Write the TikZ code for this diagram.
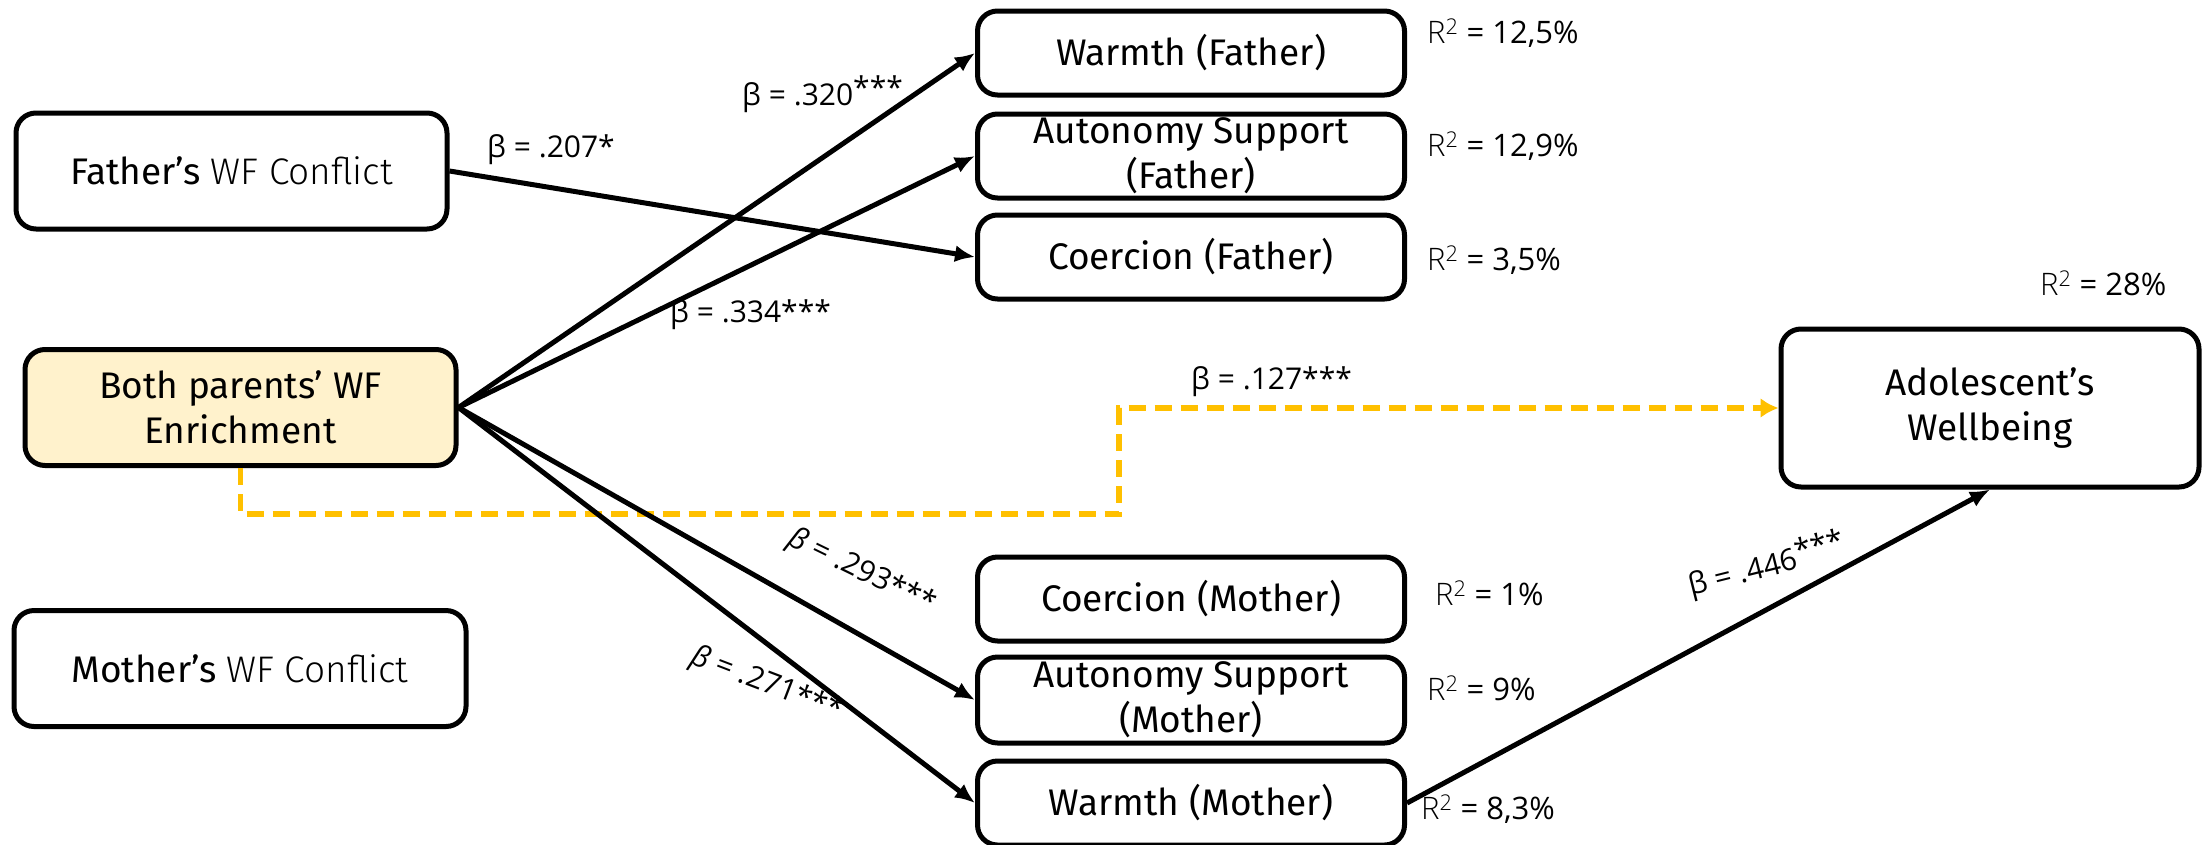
\documentclass[tikz,border=0pt]{standalone}
\usepackage{fontspec}
\setmainfont{Fira Sans}
\IfFontExistsTF{Fira Sans Light}
  {\newfontfamily\thinfont{Fira Sans Light}}
  {\newfontfamily\thinfont{Fira Sans}}
\newfontfamily\labelfont{Open Sans}
\IfFontExistsTF{Open Sans Light}
  {\newfontfamily\labelthin{Open Sans Light}}
  {\newfontfamily\labelthin{Open Sans}}
\usetikzlibrary{arrows.meta}
\definecolor{accent}{HTML}{FFC000}
\definecolor{accentfill}{HTML}{FFF2CC}
\newcommand{\rsq}[1]{{\labelthin R\textsuperscript{2}} = #1}
\newcommand{\hstars}{\raisebox{0.25em}{***}}

\begin{document}
\begin{tikzpicture}[x=1pt,y=-1pt,
  box/.style={draw, line width=5pt, rounded corners=20pt, align=center,
    inner sep=0pt, font=\fontsize{37}{45}\selectfont},
  midbox/.style={box, minimum width=427pt, minimum height=84pt},
  arr/.style={line width=5pt, -{Latex[length=20pt,width=17pt]}},
  dasharr/.style={line width=5.5pt, accent, dash pattern=on 17pt off 9pt,
    -{Latex[length=18pt,width=20pt]}},
  lbl/.style={font=\labelfont\fontsize{30}{36}\selectfont, inner sep=0pt},
  rlbl/.style={font=\labelfont\fontsize{31}{37}\selectfont, inner sep=0pt, anchor=west}]
\useasboundingbox (0,0) rectangle (2202,844);

% predictors
\node[box, minimum width=431pt, minimum height=116pt] (fwf) at (231.5,171)
  {Father’s {\thinfont WF Conflict}};
\node[box, fill=accentfill, minimum width=431pt, minimum height=116pt] (both) at (240.5,407.5)
  {Both parents’ WF\\Enrichment};
\node[box, minimum width=452pt, minimum height=116pt] (mwf) at (240,668.5)
  {Mother’s {\thinfont WF Conflict}};

% parenting dimensions
\node[midbox] (wF) at (1191,53) {Warmth (Father)};
\node[midbox] (aF) at (1191,156) {Autonomy Support\\(Father)};
\node[midbox] (cF) at (1191,257) {Coercion (Father)};
\node[midbox] (cM) at (1191,599) {Coercion (Mother)};
\node[midbox, minimum height=86pt] (aM) at (1191,700) {Autonomy Support\\(Mother)};
\node[midbox] (wM) at (1191,803) {Warmth (Mother)};

% outcome
\node[box, minimum width=418pt, minimum height=158pt] (well) at (1990,408)
  {Adolescent’s\\Wellbeing};

% explained variance
\node[rlbl] (r1) at (1427,33) {\rsq{12,5\%}};
\node[rlbl] (r2) at (1427,146) {\rsq{12,9\%}};
\node[rlbl] (r3) at (1427,260) {\rsq{3,5\%}};
\node[rlbl] (r4) at (2040,283) {\rsq{28\%}};
\node[rlbl] (r5) at (1435,593) {\rsq{1\%}};
\node[rlbl] (r6) at (1427,688) {\rsq{9\%}};
\node[rlbl] (r7) at (1421,809) {\rsq{8,3\%}};

% paths
\draw[dasharr] (both.south) |- (1119,514) -- (1119,408) -- (well.west);
\draw[arr] (fwf.east) -- (cF.west);
\draw[arr] (both.east) -- (wF.west);
\draw[arr] (both.east) -- (aF.west);
\draw[arr] (both.east) -- (aM.west);
\draw[arr] (both.east) -- (wM.west);
\draw[arr] (wM.east) -- (well.south);

% coefficients
\node[lbl, anchor=west] (b1) at (487,150) {β = .207*};
\node[lbl, anchor=west] (b2) at (742,94) {β = .320\hstars};
\node[lbl, anchor=west] (b3) at (670,315) {β = .334***};
\node[lbl, anchor=west] (b4) at (1191,382) {β = .127***};
\node[lbl, rotate=-26] (b5) at (862,572) {{\itshape β} = .293***};
\node[lbl, rotate=-21] (b6) at (767,685) {{\itshape β} = .271***};
\node[lbl, rotate=14] (b7) at (1767,565) {β = .446\hstars};
\end{tikzpicture}
\end{document}
